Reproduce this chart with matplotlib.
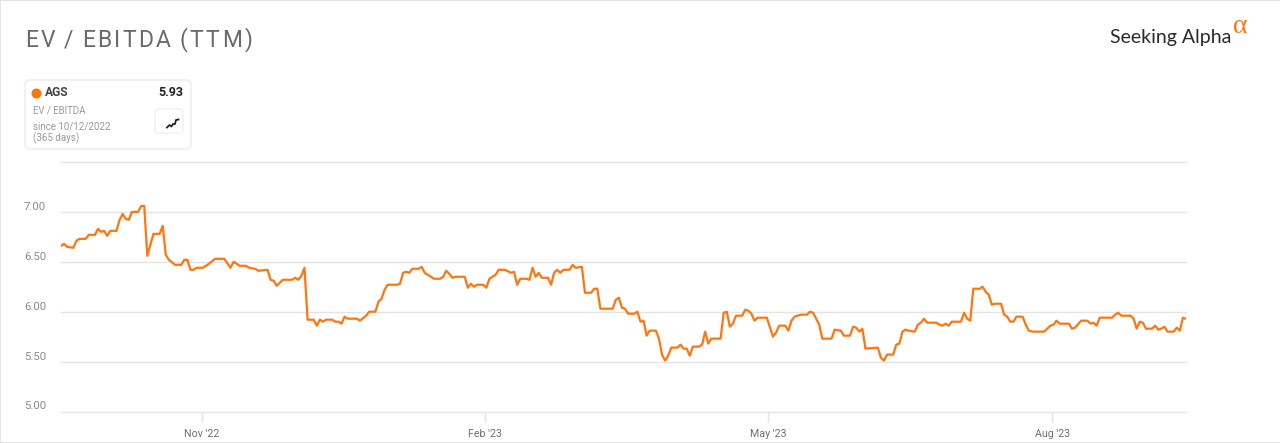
import matplotlib
matplotlib.use('Agg')
import matplotlib.pyplot as plt
from matplotlib.patches import FancyBboxPatch, Rectangle

# days since start of the window / EV/EBITDA
days = [0, 1, 2, 4, 5, 6, 8, 9, 11, 12, 13, 14, 15, 16, 18, 19, 20, 21, 22, 23, 25, 26, 27, 28, 30, 32, 33, 34, 35, 37,
        39, 40, 41, 42, 43, 44, 46, 48, 50, 53, 55, 56, 58, 60, 61, 63, 64, 67, 68, 69, 70, 72, 75, 76, 77, 78, 79, 80, 82, 83,
        84, 85, 86, 88, 89, 90, 91, 92, 93, 96, 97, 99, 100, 102, 103, 104, 105, 106, 109, 110, 111, 112, 113, 114, 116, 117, 118, 119, 121, 123,
        124, 125, 126, 127, 128, 131, 132, 133, 134, 135, 137, 138, 139, 141, 142, 144, 146, 147, 148, 149, 151, 152, 153, 154, 155, 156, 158, 159, 160, 161,
        162, 163, 165, 166, 167, 169, 170, 172, 173, 174, 175, 179, 180, 181, 182, 183, 184, 186, 187, 188, 189, 190, 191, 193, 194, 195, 196, 197, 198, 200,
        201, 202, 203, 204, 205, 207, 208, 209, 210, 211, 214, 215, 216, 217, 218, 219, 221, 222, 223, 224, 225, 226, 229, 231, 232, 233, 235, 236, 237, 238,
        240, 242, 243, 244, 245, 246, 247, 250, 251, 253, 254, 256, 257, 258, 259, 260, 261, 265, 266, 267, 268, 270, 271, 272, 273, 274, 275, 277, 278, 279,
        280, 281, 284, 285, 286, 287, 288, 289, 292, 293, 294, 295, 296, 298, 299, 300, 301, 302, 303, 305, 306, 307, 308, 309, 310, 312, 313, 314, 315.5, 319,
        321, 322, 323, 324, 327, 328, 329, 331, 333, 334, 335, 336, 337, 341, 342, 343, 344, 347, 348, 349, 350, 351, 352, 354, 355, 356, 357, 358, 359, 361,
        362, 363, 364, 365]
ev_ebitda = [6.66, 6.68, 6.65, 6.64, 6.71, 6.73, 6.73, 6.77, 6.77, 6.83, 6.80, 6.81, 6.76, 6.81, 6.81, 6.92, 6.98, 6.93, 6.92, 7.00, 7.00, 7.06, 7.06, 6.56, 6.78, 6.78, 6.86, 6.57, 6.52, 6.47,
             6.47, 6.52, 6.52, 6.42, 6.42, 6.44, 6.44, 6.48, 6.53, 6.53, 6.44, 6.50, 6.46, 6.46, 6.44, 6.43, 6.41, 6.42, 6.32, 6.31, 6.26, 6.32, 6.32, 6.34, 6.32, 6.36, 6.44, 5.92, 5.92, 5.86,
             5.92, 5.90, 5.92, 5.92, 5.90, 5.90, 5.88, 5.95, 5.93, 5.93, 5.91, 5.96, 6.00, 6.00, 6.10, 6.13, 6.22, 6.27, 6.27, 6.28, 6.39, 6.40, 6.39, 6.43, 6.43, 6.45, 6.39, 6.37, 6.33, 6.33,
             6.35, 6.41, 6.38, 6.34, 6.35, 6.35, 6.24, 6.28, 6.25, 6.27, 6.27, 6.24, 6.33, 6.37, 6.42, 6.42, 6.39, 6.40, 6.27, 6.33, 6.33, 6.32, 6.44, 6.35, 6.39, 6.34, 6.34, 6.27, 6.39, 6.42,
             6.39, 6.42, 6.42, 6.47, 6.44, 6.45, 6.19, 6.19, 6.23, 6.23, 6.03, 6.03, 6.12, 6.14, 6.04, 6.03, 5.98, 5.98, 6.00, 5.90, 5.91, 5.76, 5.81, 5.81, 5.73, 5.57, 5.51, 5.56, 5.64, 5.64,
             5.67, 5.63, 5.63, 5.56, 5.65, 5.65, 5.67, 5.80, 5.68, 5.73, 5.73, 5.99, 6.00, 5.85, 5.88, 5.96, 5.96, 6.02, 6.01, 5.98, 5.91, 5.94, 5.94, 5.75, 5.79, 5.86, 5.86, 5.81, 5.91, 5.95,
             5.97, 5.97, 6.00, 5.99, 5.93, 5.87, 5.73, 5.73, 5.82, 5.81, 5.76, 5.76, 5.85, 5.84, 5.80, 5.83, 5.63, 5.64, 5.54, 5.51, 5.57, 5.57, 5.67, 5.68, 5.80, 5.82, 5.81, 5.80, 5.87, 5.89,
             5.93, 5.89, 5.89, 5.87, 5.86, 5.88, 5.86, 5.90, 5.90, 5.99, 5.93, 5.91, 6.23, 6.23, 6.25, 6.20, 6.17, 6.07, 6.08, 6.08, 5.97, 5.95, 5.90, 5.90, 5.95, 5.95, 5.87, 5.81, 5.80, 5.80,
             5.86, 5.87, 5.91, 5.88, 5.88, 5.83, 5.84, 5.91, 5.91, 5.88, 5.89, 5.86, 5.94, 5.94, 5.97, 5.99, 5.96, 5.96, 5.93, 5.83, 5.90, 5.89, 5.83, 5.83, 5.86, 5.82, 5.83, 5.85, 5.80, 5.80,
             5.84, 5.81, 5.94, 5.93]

y_ticks = [5.0, 5.5, 6.0, 6.5, 7.0, 7.5]
y_labels = ['5.00', '5.50', '6.00', '6.50', '7.00', '']
x_ticks = [45.75, 137.6, 229.4, 321.6]
x_labels = ["Nov '22", "Feb '23", "May '23", "Aug '23"]

ORANGE = '#ff7610'
GRID = '#e4e4e4'

W, H = 1280, 443
fig = plt.figure(figsize=(W / 100, H / 100), dpi=100, facecolor='white')
plt.rcParams['font.family'] = ['Roboto', 'DejaVu Sans']

ax = fig.add_axes([61 / W, 1 - 411.5 / H, 1125 / W, 249.5 / H])
ax.plot(days, ev_ebitda, color=ORANGE, lw=1.6, solid_joinstyle='round', zorder=3)
ax.set_xlim(0, 365)
ax.set_ylim(5, 7.5)
ax.set_yticks(y_ticks)
ax.set_yticklabels(y_labels, color='#8a8a8a', fontsize=8.2, va='bottom')
ax.set_xticks(x_ticks)
ax.set_xticklabels(x_labels, color='#6f6f6f', fontsize=7.7)
ax.tick_params(axis='y', length=0, pad=10.7)
ax.tick_params(axis='x', length=7, width=1, color=GRID, pad=5.5)
ax.grid(axis='y', color=GRID, lw=1, clip_on=False)
for line in ax.get_ygridlines():
    line.set_clip_on(False)
ax.set_axisbelow(True)
for s in ['top', 'left', 'right', 'bottom']:
    ax.spines[s].set_visible(False)

# overlay in picture pixels for the header, legend card and logo
ov = fig.add_axes([0, 0, 1, 1], zorder=5)
ov.set_xlim(0, W)
ov.set_ylim(H, 0)
ov.axis('off')
ov.patch.set_alpha(0)

ov.add_patch(Rectangle((0, 0), W, 1, color='#e4e4e4', lw=0))
ov.add_patch(Rectangle((0, 0), 1, H, color='#e4e4e4', lw=0))
ov.add_patch(Rectangle((0, H - 1), W, 1, color='#e4e4e4', lw=0))

# title has wide tracking in the original, so place it letter by letter
title = 'EV / EBITDA (TTM)'
x = 25
r = fig.canvas.get_renderer()
for ch in title:
    t = ov.text(x, 46.5, ch, fontsize=16.5, color='#6a6a6a', family='Roboto', va='baseline')
    if ch == ' ':
        adv = 6
    else:
        adv = t.get_window_extent(r).width + 2.5
    x += adv

ov.add_patch(FancyBboxPatch((25, 80), 166, 69, boxstyle='round,pad=0,rounding_size=5',
                            fc='white', ec='#ececec', lw=1))
ov.scatter([35.5], [92.5], s=52, color=ORANGE, lw=0)
ov.text(44.5, 92.5, 'AGS', fontsize=8.7, weight='bold', color='#444444', va='center')
ov.text(183, 92.5, '5.93', fontsize=9, weight='bold', color='#222222', va='center', ha='right')
ov.text(33, 110, 'EV / EBITDA', fontsize=6.9, color='#9a9a9a', va='center')
ov.text(33, 126, 'since 10/12/2022', fontsize=7, color='#9a9a9a', va='center')
ov.text(33, 138, '(365 days)', fontsize=7, color='#9a9a9a', va='center')
ov.add_patch(FancyBboxPatch((155, 109), 28, 24, boxstyle='round,pad=0,rounding_size=4',
                            fc='white', ec='#f0f0f0', lw=1))
ov.plot([167, 169.5, 171.5, 173, 175, 176, 178.5], [127.5, 125, 126.5, 124, 124, 120, 119.5], color='#222222', lw=1.3)

ov.text(1110, 43, 'Seeking Alpha', fontsize=14, family='Lato', color='#2a2a2a', va='baseline')
ov.text(1233, 33, 'α', fontsize=20, family='Liberation Serif', color=ORANGE, va='baseline')

fig.savefig('out.png', dpi=100, facecolor='white')
